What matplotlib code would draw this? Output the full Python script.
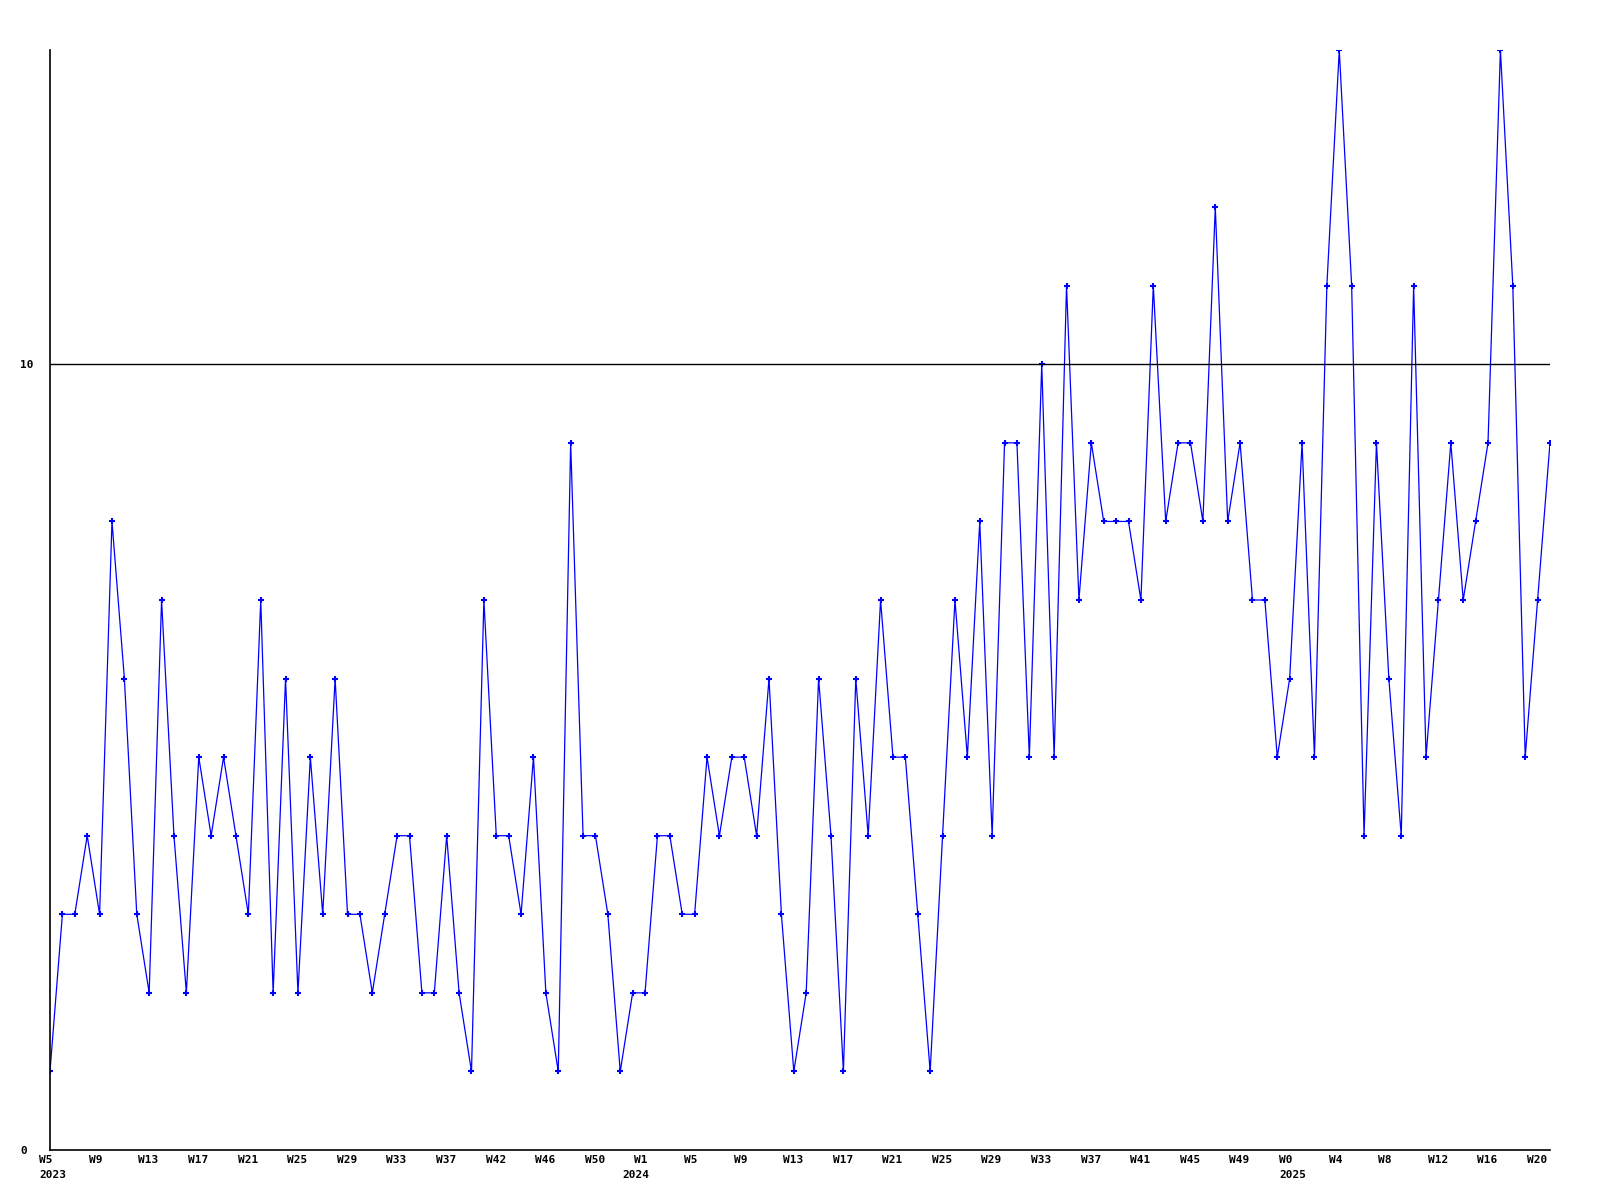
import numpy as np
import matplotlib
matplotlib.use('Agg')
import matplotlib.pyplot as plt
import matplotlib.transforms as mtransforms

# weekly counts, W5 2023 .. W21 2025
values = [1, 3, 3, 4, 3, 8, 6, 3, 2, 7, 4, 2, 5, 4, 5, 4, 3, 7, 2, 6,
          2, 5, 3, 6, 3, 3, 2, 3, 4, 4, 2, 2, 4, 2, 1, 7, 4, 4, 3, 5,
          2, 1, 9, 4, 4, 3, 1, 2, 2, 4, 4, 3, 3, 5, 4, 5, 5, 4, 6, 3,
          1, 2, 6, 4, 1, 6, 4, 7, 5, 5, 3, 1, 4, 7, 5, 8, 4, 9, 9, 5,
          10, 5, 11, 7, 9, 8, 8, 8, 7, 11, 8, 9, 9, 8, 12, 8, 9, 7, 7, 5,
          6, 9, 5, 11, 14, 11, 4, 9, 6, 4, 11, 5, 7, 9, 7, 8, 9, 14, 11, 5,
          7, 9]

tick_pos = list(range(0, 121, 4))
tick_labels = ['W5', 'W9', 'W13', 'W17', 'W21', 'W25', 'W29', 'W33', 'W37', 'W42',
               'W46', 'W50', 'W1', 'W5', 'W9', 'W13', 'W17', 'W21', 'W25', 'W29',
               'W33', 'W37', 'W41', 'W45', 'W49', 'W0', 'W4', 'W8', 'W12', 'W16', 'W20']
year_pos = [0, 47, 100]
year_labels = ['2023', '2024', '2025']

font = dict(family='DejaVu Sans Mono', weight='bold', size=8)

fig = plt.figure(figsize=(16, 12), dpi=100)
ax = fig.add_axes([50/1600, 50/1200, 1500/1600, 1100/1200])

x = np.arange(len(values))
ax.plot(x, values, color='#0000ff', lw=0.9, marker='+', ms=4, mew=1.5)
ax.axhline(10, color='black', lw=1)

ax.set_xlim(0, len(values) - 1)
ax.set_ylim(0, 14)
for s in ['top', 'right']:
    ax.spines[s].set_visible(False)
for s in ['left', 'bottom']:
    ax.spines[s].set_linewidth(1.2)

ax.set_xticks([])
ax.set_yticks([0, 10])
ax.set_yticklabels(['0', '10'], fontdict=font)
for lab in ax.get_yticklabels():
    lab.set_horizontalalignment('left')
ax.tick_params(length=0, pad=21.3, axis='y')

# week / year labels sit a little left of their point
shift = mtransforms.ScaledTranslation(-10.7/100, 0, fig.dpi_scale_trans)
trans = mtransforms.blended_transform_factory(ax.transData, ax.transAxes) + shift
for p, lab in zip(tick_pos, tick_labels):
    ax.text(p, -0.0045, lab, transform=trans, ha='left', va='top', **font)
for p, lab in zip(year_pos, year_labels):
    ax.text(p, -0.018, lab, transform=trans, ha='left', va='top', **font)

fig.savefig('out.png', dpi=100)
